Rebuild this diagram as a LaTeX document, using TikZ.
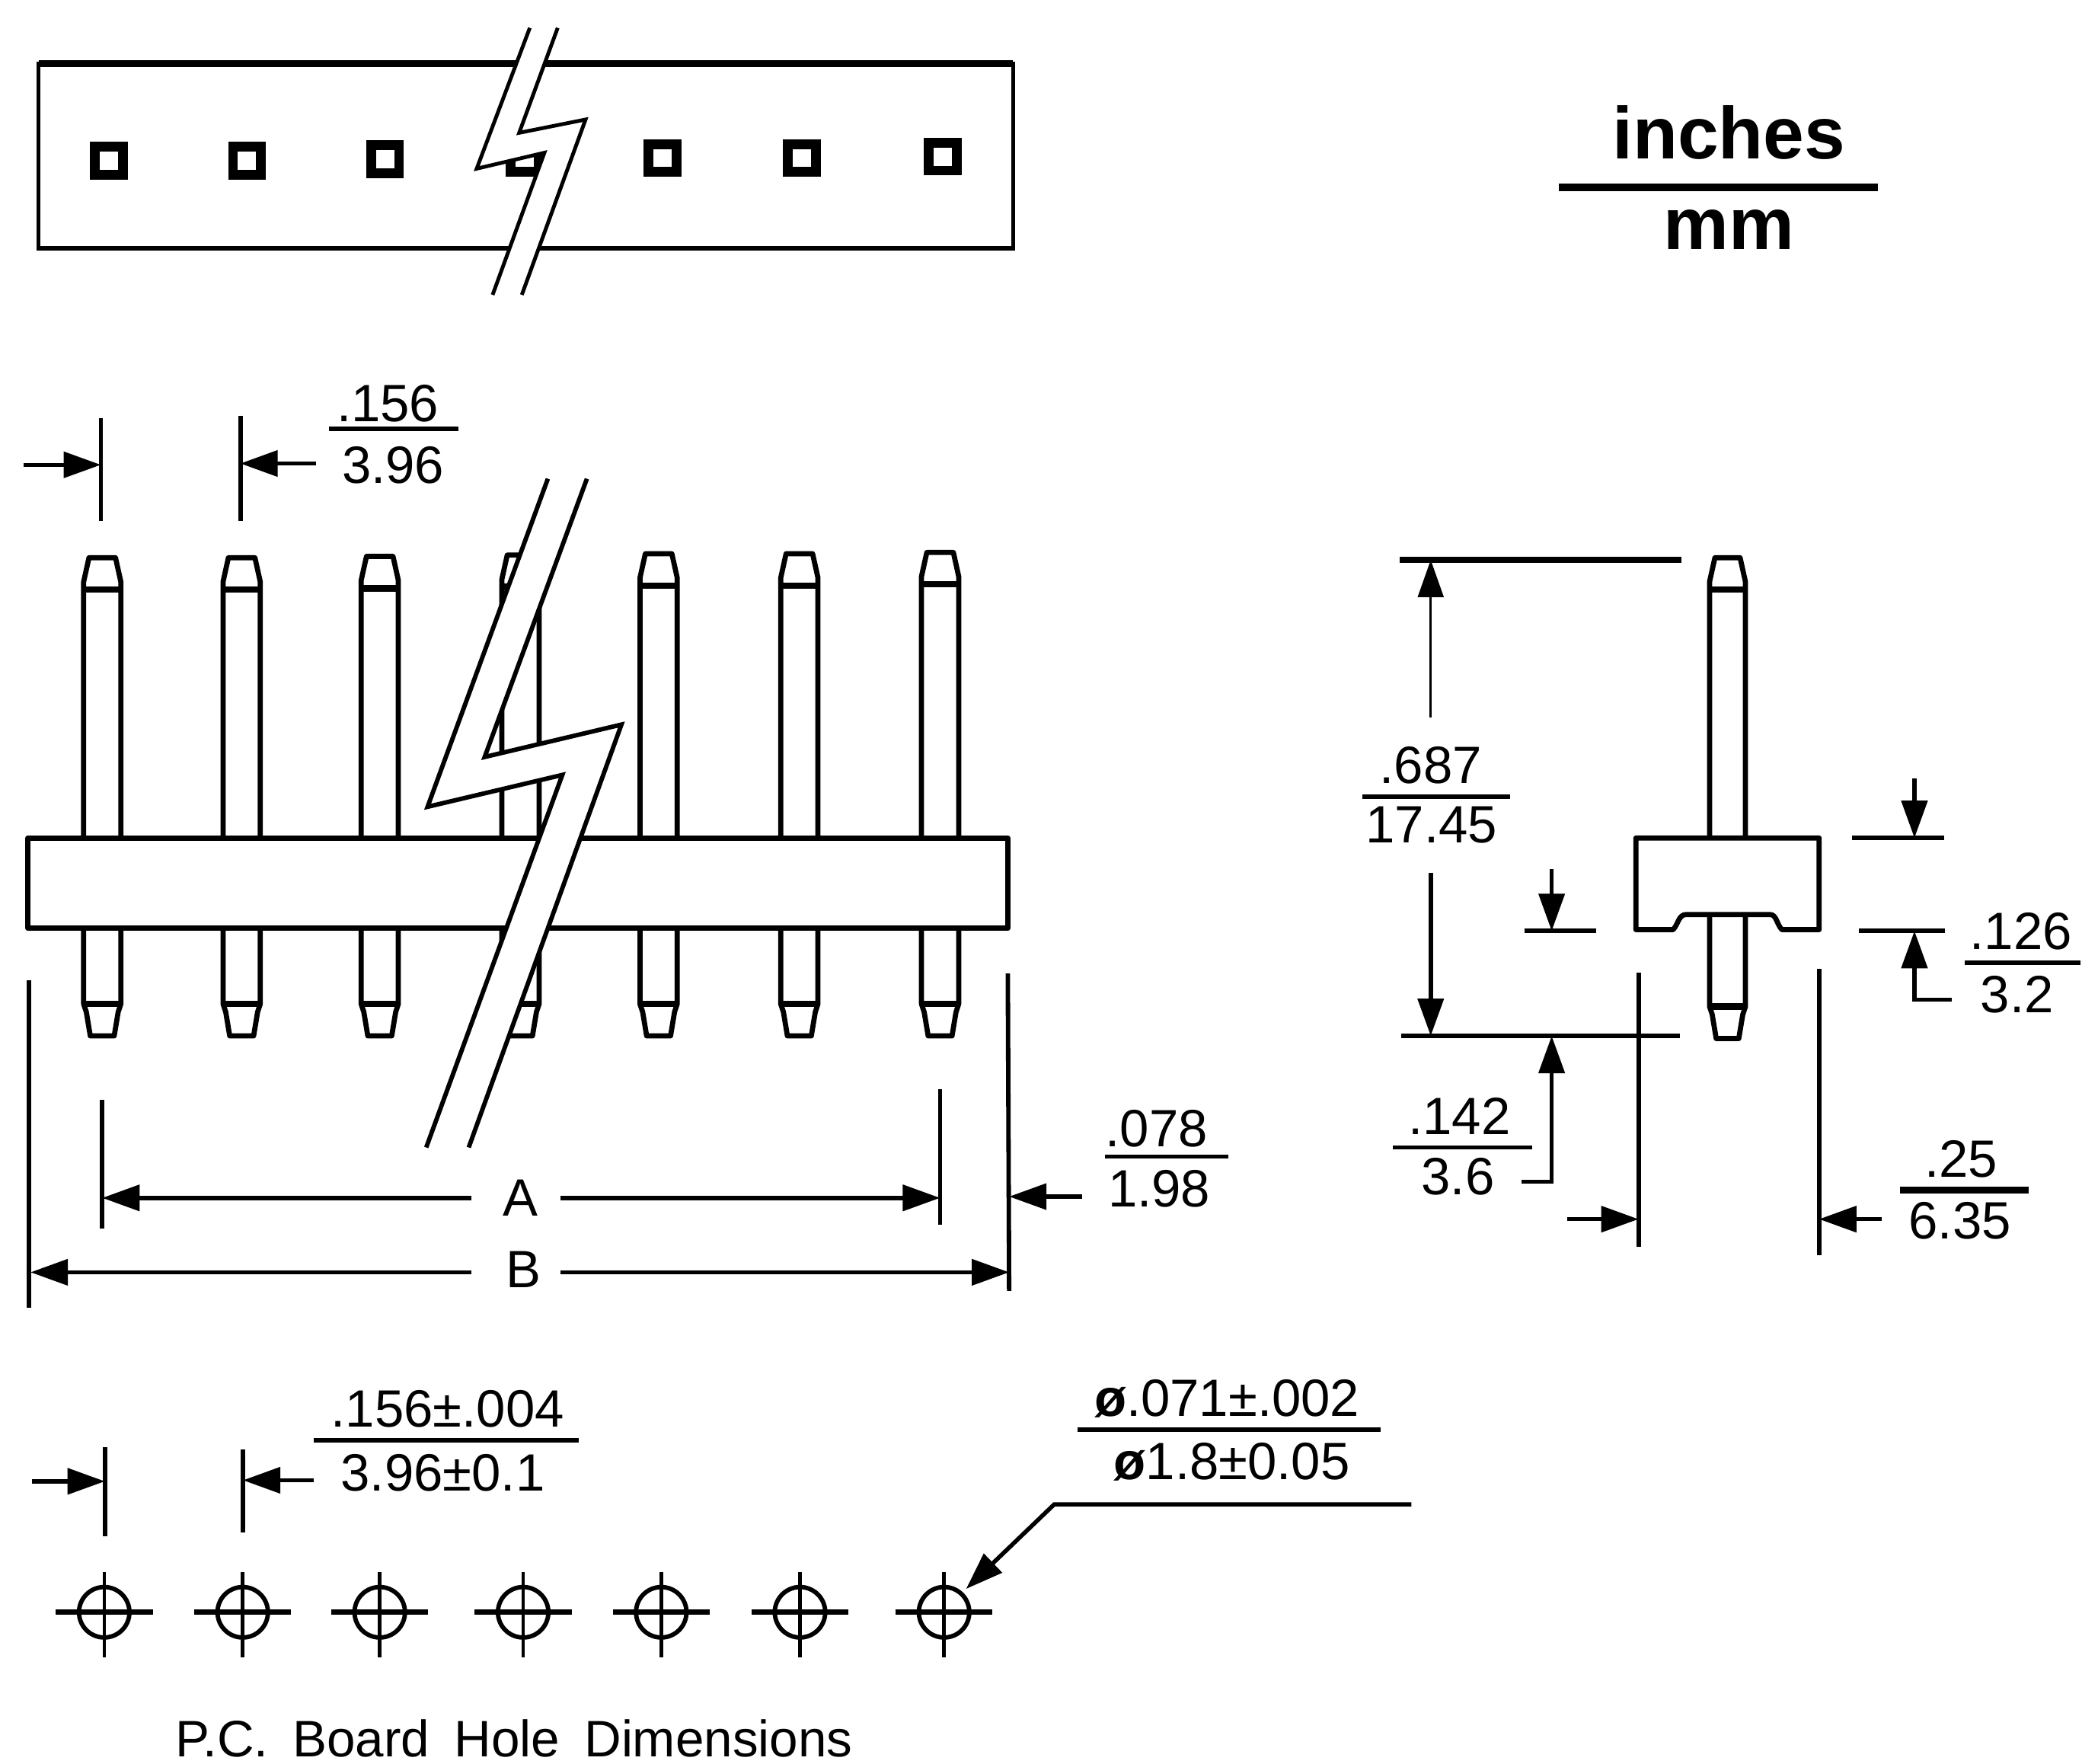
\documentclass[tikz,border=0pt]{standalone}
\usepackage{fontspec}
\setmainfont{Liberation Sans}
\usetikzlibrary{arrows.meta}
\tikzset{
  lbl/.style={inner sep=0pt,outer sep=0pt,anchor=center,font=\fontsize{22.5}{24}\selectfont},
  big/.style={inner sep=0pt,outer sep=0pt,anchor=center,font=\fontsize{31.5}{34}\selectfont\bfseries},
  ln/.style={line width=1.9pt,line cap=butt,line join=miter},
  rulefr/.style={line width=1.8pt},
  dimarrow/.style={line width=1.8pt,-{Triangle[length=16pt,width=11pt]}},
  thindim/.style={line width=1.1pt,-{Triangle[length=16pt,width=11pt]}},
  outline/.style={line width=2.2pt,line join=round}
}
\newcommand{\pinfront}[4]{% centre, half width, top, bottom
  \draw[outline,fill=white] (#1-#2,#4-24) -- (#1-#2,#3+18) -- (#1-#2+4,#3) -- (#1+#2-4,#3)
     -- (#1+#2,#3+18) -- (#1+#2,#4-24) -- (#1+#2-2,#4-18) -- (#1+#2-5,#4) -- (#1-#2+5,#4) -- (#1-#2+2,#4-18) -- cycle;
  \draw[line width=2.8pt] (#1-#2,#3+24) -- (#1+#2,#3+24);
  \draw[line width=2.8pt] (#1-#2,#4-24) -- (#1+#2,#4-24);
}
\begin{document}
\begin{tikzpicture}[x=0.02cm,y=-0.02cm]
\useasboundingbox (0,0) rectangle (1568,1328);
\fill[white] (0,0) rectangle (1568,1328);

% ---------- top view strip
\draw[line width=1.6pt] (29,48) rectangle (763,187);
\draw[line width=2.8pt] (29,48) -- (763,48);
\draw[line width=2.2pt] (29,187) -- (763,187);
\foreach \c/\y in {82/121,186/121,290/120,395/119,499/119,604/119,710/118}{
  \draw[line width=4.2pt] (\c-10.5,\y-10.5) rectangle (\c+10.5,\y+10.5);
}
\fill[white] (399,21) -- (359,127) -- (410,115) -- (371,222) -- (393,222) -- (441,90) -- (391,100) -- (420,21) -- cycle;
\draw[line width=1.6pt] (399,21) -- (359,127) -- (410,115) -- (371,222);
\draw[line width=1.6pt] (420,21) -- (391,100) -- (441,90) -- (393,222);

% ---------- inches / mm key
\node[big] (inches) at (1302,100) {inches};
\draw[line width=3.2pt] (1174,141) -- (1414,141);
\node[big] (mm) at (1302,173) {mm};

% ---------- front view pins
\foreach \c/\t in {77/420,182/420,286/419,392/418,496/417,602/417,708/416}{
  \pinfront{\c}{14}{\t}{780}
}
% body
\draw[outline,fill=white] (21,631) rectangle (759,699);
% break band
\fill[white] (412.6,360.5) -- (322,607.5) -- (423.5,583.5) -- (321,864) -- (353,864) -- (468,545.6) -- (365,570) -- (442,360.5) -- cycle;
\draw[ln] (412.6,360.5) -- (322,607.5) -- (423.5,583.5) -- (321,864);
\draw[ln] (442,360.5) -- (365,570) -- (468,545.6) -- (353,864);

% pitch dimension
\draw[ln] (76,315) -- (76,392);
\draw[ln] (181,313) -- (181,392);
\coordinate (p1s) at (18,350);  \coordinate (p1e) at (76,350);
\coordinate (p2s) at (238,349); \coordinate (p2e) at (181,349);
\draw[dimarrow] (p1s) -- (p1e);
\draw[dimarrow] (p2s) -- (p2e);
\node[lbl] (t156) at (292,304) {.156};
\draw[rulefr] (248,323) -- (345,323);
\node[lbl] (t396) at (296,350) {3.96};

% A / B dimensions
\draw[ln] (22,738) -- (22,985);
\draw[ln] (77,828) -- (77,925);
\draw[ln] (708,820) -- (708,922);
\draw[ln] (759,733) -- (760,972);
\node[lbl] (labA) at (392,902) {A};
\node[lbl] (labB) at (394,956) {B};
\coordinate (a1) at (355,902); \coordinate (a1e) at (77,902);
\coordinate (a2) at (422,902); \coordinate (a2e) at (708,902);
\coordinate (b1) at (355,958); \coordinate (b1e) at (23,958);
\coordinate (b2) at (422,958); \coordinate (b2e) at (760,958);
\draw[dimarrow] (a1) -- (a1e);
\draw[dimarrow] (a2) -- (a2e);
\draw[dimarrow] (b1) -- (b1e);
\draw[dimarrow] (b2) -- (b2e);
\coordinate (w1) at (815,901); \coordinate (w1e) at (760,901);
\draw[dimarrow] (w1) -- (w1e);
\node[lbl] (t078) at (871,850) {.078};
\draw[rulefr] (832,871) -- (925,871);
\node[lbl] (t198) at (873,895) {1.98};

% ---------- side view
\pinfront{1301}{13.5}{420}{782}
\draw[outline,fill=white] (1232,631) -- (1370,631) -- (1370,700) -- (1342,700)
  .. controls (1338,696) and (1338,688.6) .. (1333,688.6) -- (1270,688.6)
  .. controls (1264,688.6) and (1264,696) .. (1260,700) -- (1232,700) -- cycle;
\draw[line width=2.4pt] (1054,421.6) -- (1266.5,421.6);
\draw[ln] (1055,780) -- (1265,780);
\coordinate (h1s) at (1077.5,540.5); \coordinate (h1e) at (1077.5,421.6);
\coordinate (h2s) at (1077.5,657.5); \coordinate (h2e) at (1077.5,780);
\draw[thindim] (h1s) -- (h1e);
\draw[dimarrow] (h2s) -- (h2e);
\node[lbl] (t687) at (1077.5,576) {.687};
\draw[rulefr] (1026,600) -- (1137,600);
\node[lbl] (t1745) at (1078,621) {17.45};
% body height
\draw[ln] (1148,701) -- (1202,701);
\coordinate (k1s) at (1168.6,654.6); \coordinate (k1e) at (1168.6,701);
\draw[dimarrow] (k1s) -- (k1e);
\draw[ln] (1395,631) -- (1464,631);
\coordinate (k2s) at (1441.8,586); \coordinate (k2e) at (1441.8,631);
\draw[dimarrow] (k2s) -- (k2e);
\draw[ln] (1400,701) -- (1464.5,701);
\coordinate (k3s) at (1470,752.6); \coordinate (k3m) at (1441.8,752.6); \coordinate (k3e) at (1441.8,701);
\draw[dimarrow] (k3s) -- (k3m) -- (k3e);
\node[lbl] (t126) at (1522,701.4) {.126};
\draw[rulefr] (1479.6,725) -- (1567,725);
\node[lbl] (t32) at (1519,749) {3.2};
% .142
\coordinate (m1s) at (1146,889.8); \coordinate (m1m) at (1168.6,889.8); \coordinate (m1e) at (1168.6,780);
\draw[dimarrow] (m1s) -- (m1m) -- (m1e);
\node[lbl] (t142) at (1099,840.4) {.142};
\draw[rulefr] (1049,864) -- (1154,864);
\node[lbl] (t36) at (1098,886) {3.6};
% .25
\draw[ln] (1234,732.5) -- (1234,939);
\draw[ln] (1370,729.6) -- (1370,945);
\coordinate (n1s) at (1180,918); \coordinate (n1e) at (1234,918);
\coordinate (n2s) at (1417,918); \coordinate (n2e) at (1370,918);
\draw[dimarrow] (n1s) -- (n1e);
\draw[dimarrow] (n2s) -- (n2e);
\node[lbl] (t25) at (1477,873) {.25};
\draw[line width=2.8pt] (1431,896) -- (1528,896);
\node[lbl] (t635) at (1476,919) {6.35};

% ---------- PCB holes
\foreach \c in {78.5,182.8,286,394,498,602.5,711}{
  \draw[line width=1.9pt] (\c,1214) circle[radius=19];
  \draw[line width=1.5pt] (\c,1183.6) -- (\c,1248);
  \draw[line width=2.4pt] (\c-36.5,1214) -- (\c+36.5,1214);
}
\draw[ln] (79,1089.5) -- (79,1157);
\draw[ln] (183,1091.5) -- (183,1154);
\coordinate (q1s) at (24,1115.4); \coordinate (q1e) at (79,1115.4);
\coordinate (q2s) at (236,1114.6); \coordinate (q2e) at (183,1114.6);
\draw[dimarrow] (q1s) -- (q1e);
\draw[dimarrow] (q2s) -- (q2e);
\node[lbl] (t156b) at (337,1061) {.156±.004};
\draw[rulefr] (236,1084.6) -- (436,1084.6);
\node[lbl] (t396b) at (333.5,1109) {3.96±0.1};
\node[lbl] (td71) at (924,1053) {{\bfseries ø}.071±.002};
\draw[rulefr] (811.6,1076.4) -- (1040,1076.4);
\node[lbl] (td18) at (927.7,1101) {{\bfseries ø}1.8±0.05};
\coordinate (l1) at (1063,1132.7); \coordinate (l2) at (794,1132.7); \coordinate (l3) at (727.6,1196.4);
\draw[dimarrow] (l1) -- (l2) -- (l3);
\node[lbl,font=\fontsize{22}{24}\selectfont] (caption) at (387,1309) {P.C.\hspace{0.2em} Board\hspace{0.2em} Hole\hspace{0.2em} Dimensions};
\end{tikzpicture}
\end{document}
